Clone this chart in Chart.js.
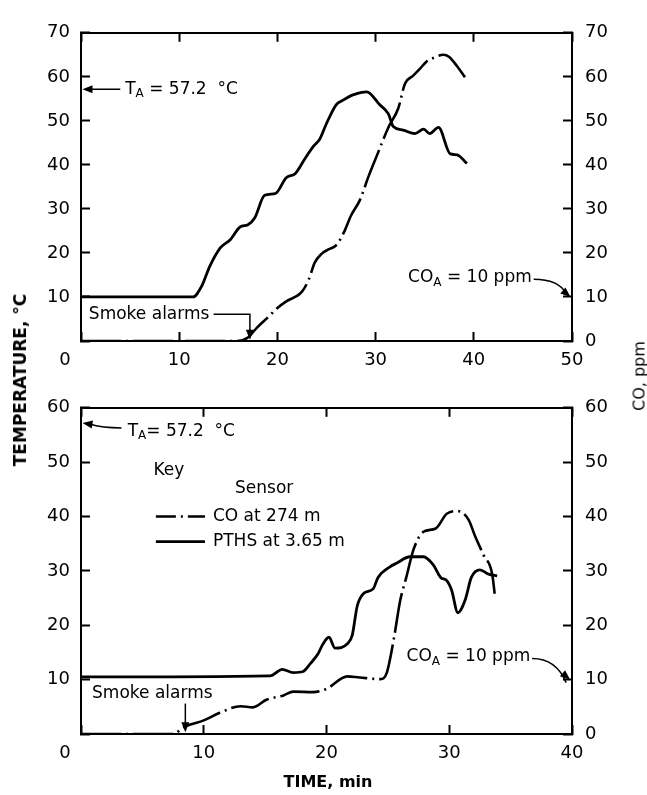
<!DOCTYPE html>
<html>
<head>
<meta charset="utf-8">
<script src="https://cdn.jsdelivr.net/npm/chart.js@4.4.1/dist/chart.umd.min.js"></script>
<style>
  body { margin: 0; background: #fff; }
  #wrap { position: relative; width: 647px; height: 795px; font-family: "DejaVu Sans", sans-serif; color: #000; }
  .box { position: absolute; left: 0; width: 647px; }
  #topBox { top: 0; height: 375px; }
  #botBox { top: 375px; height: 420px; }
  .lab { position: absolute; white-space: nowrap; font-size: 16px; transform: translate(-50%, -50%); }
  .rot { transform: translate(-50%, -50%) rotate(-90deg); }
</style>
</head>
<body>
<div id="wrap">
  <div class="box" id="topBox"><canvas id="topChart"></canvas></div>
  <div class="box" id="botBox"><canvas id="botChart"></canvas></div>
  <div class="lab rot" style="left:20px;top:380px;font-weight:bold;font-size:17px;">TEMPERATURE, °C</div>
  <div class="lab rot" style="left:639px;top:376px;">CO, ppm</div>
  <div class="lab" style="left:328px;top:781px;font-weight:bold;">TIME, min</div>
</div>
<script>
// upper panel
const topTempTime = [0, 11.4, 12.3, 13.1, 14.2, 15.2, 16.2, 17.0, 17.7, 18.7, 19.8, 20.9, 21.8, 22.8, 23.7, 24.3, 25.0, 26.0, 26.6, 27.7, 29.1, 30.4, 31.3, 31.8, 32.8, 34.0, 34.9, 35.5, 36.4, 37.6, 38.3, 39.3];
const topTemp     = [10, 10, 12.5, 16.9, 21.2, 23.0, 25.9, 26.4, 28.0, 33.1, 33.5, 37.1, 38.0, 41.4, 44.3, 45.8, 49.4, 53.7, 54.6, 55.9, 56.6, 53.7, 51.6, 48.7, 47.9, 47.1, 48.1, 47.1, 48.5, 42.5, 42.3, 40.3];
const topCoTime = [0, 15.9, 17.0, 17.9, 19.0, 20.0, 20.9, 22.5, 23.2, 23.8, 24.5, 25.2, 26.0, 26.8, 27.5, 28.4, 29.3, 30.2, 31.3, 32.3, 33.0, 33.8, 34.5, 35.2, 36.0, 36.9, 37.5, 38.3, 39.1];
const topCo     = [0, 0, 0.8, 3.0, 5.3, 7.5, 9.0, 11.2, 14.0, 17.8, 19.8, 20.8, 21.8, 24.8, 28.5, 32.0, 37.5, 42.5, 48.5, 52.8, 58.5, 60.2, 61.8, 63.5, 64.4, 65.0, 64.5, 62.4, 59.9];

// lower panel
const botTempTime = [0, 15.4, 16.4, 17.3, 18.1, 18.7, 19.3, 19.7, 20.2, 20.7, 21.7, 22.1, 22.5, 23.0, 23.8, 24.2, 25.2, 25.7, 26.8, 27.9, 28.7, 29.3, 29.8, 30.2, 30.7, 31.3, 31.8, 32.5, 33.2, 33.9];
const botTemp     = [10.5, 10.7, 11.9, 11.3, 11.5, 13.0, 14.7, 16.5, 17.8, 15.8, 16.6, 18.2, 23.5, 25.8, 26.7, 28.8, 30.8, 31.4, 32.6, 32.6, 31.1, 28.8, 28.2, 26.4, 22.3, 24.7, 28.8, 30.2, 29.4, 29.1];
const botCoTime = [0, 7.4, 8.6, 10.0, 11.3, 13.0, 14.0, 15.1, 16.5, 17.3, 18.9, 20.0, 21.7, 22.7, 24.4, 24.9, 25.5, 26.0, 26.5, 27.1, 27.9, 28.9, 29.8, 30.7, 31.6, 32.1, 32.8, 33.5, 33.7];
const botCo     = [0, 0, 1.5, 2.5, 3.9, 5.1, 4.9, 6.3, 7.1, 7.8, 7.7, 8.3, 10.6, 10.4, 10.1, 11.2, 17.7, 24.5, 28.8, 34.0, 37.2, 37.8, 40.5, 41.0, 39.3, 36.4, 32.9, 29.4, 25.8];

const topXMax = 50, topYMax = 70;
const botXMax = 40, botYMax = 60;
const ambientTemp = 57.2;
const ambientCo = 10;
const topAlarmTime = 17.2;
const botAlarmTime = 8.5;
const keyLabels = ['CO at 274 m', 'PTHS at 3.65 m'];

const FONT = '"DejaVu Sans", sans-serif';
const NOTE = '17px ' + FONT;
const DASHDOT = [40, 5, 2, 5];

function toXY(xs, ys) {
  return xs.map((x, i) => ({ x: x, y: ys[i] }));
}

function arrowHead(ctx, x, y, angle, size) {
  ctx.save();
  ctx.translate(x, y);
  ctx.rotate(angle);
  ctx.beginPath();
  ctx.moveTo(0, 0);
  ctx.lineTo(-size, -size * 0.4);
  ctx.lineTo(-size, size * 0.4);
  ctx.closePath();
  ctx.fill();
  ctx.restore();
}

// text with a subscript part, e.g. T_A, CO_A
function subText(ctx, x, y, main, sub, rest, align) {
  ctx.textBaseline = 'middle';
  ctx.textAlign = 'left';
  ctx.font = NOTE;
  const w1 = ctx.measureText(main).width;
  const w3 = ctx.measureText(rest).width;
  ctx.font = '12px ' + FONT;
  const w2 = ctx.measureText(sub).width;
  let sx = align === 'right' ? x - (w1 + w2 + w3) : x;
  ctx.font = NOTE;
  ctx.fillText(main, sx, y);
  ctx.font = '12px ' + FONT;
  ctx.fillText(sub, sx + w1, y + 5);
  ctx.font = NOTE;
  ctx.fillText(rest, sx + w1 + w2, y);
}

const notesPlugin = {
  id: 'notes',
  afterDraw(chart, args, opts) {
    const ctx = chart.ctx;
    const xs = chart.scales.x, ys = chart.scales.y;
    const P = (t, v) => [xs.getPixelForValue(t), ys.getPixelForValue(v)];
    ctx.save();
    ctx.fillStyle = '#000';
    ctx.strokeStyle = '#000';
    ctx.lineWidth = 1.5;
    // corner zero shared by both axes
    const o = P(0, 0);
    ctx.font = '18px ' + FONT;
    ctx.textAlign = 'center';
    ctx.textBaseline = 'middle';
    ctx.fillText('0', o[0] - 16, o[1] + 19);
    opts.draw(ctx, P);
    ctx.restore();
  }
};

function makeChart(id, cfg) {
  const tickFont = { family: FONT, size: 18 };
  const grid = { drawOnChartArea: false, tickLength: -9, tickWidth: 2, color: '#000' };
  const border = { color: '#000', width: 2 };
  return new Chart(document.getElementById(id), {
    type: 'line',
    data: {
      datasets: [
        {
          label: 'CO',
          data: toXY(cfg.coTime, cfg.co),
          borderColor: '#000',
          borderWidth: 2.6,
          borderDash: DASHDOT,
          pointRadius: 0,
          cubicInterpolationMode: 'monotone',
          yAxisID: 'y2'
        },
        {
          label: 'Temperature',
          data: toXY(cfg.tempTime, cfg.temp),
          borderColor: '#000',
          borderWidth: 2.8,
          pointRadius: 0,
          cubicInterpolationMode: 'monotone',
          yAxisID: 'y'
        }
      ]
    },
    options: {
      responsive: true,
      maintainAspectRatio: false,
      animation: false,
      events: [],
      layout: { padding: 0 },
      plugins: {
        legend: { display: false },
        tooltip: { enabled: false },
        notes: { draw: cfg.notes }
      },
      scales: {
        x: {
          type: 'linear', position: 'bottom', min: 0, max: cfg.xMax,
          ticks: { stepSize: 10, color: '#000', font: tickFont, padding: 18, maxRotation: 0,
                   callback: v => (v === 0 ? '' : v) },
          grid: grid, border: border,
          afterFit: s => { s.height = cfg.bottomH; }
        },
        x2: {
          type: 'linear', position: 'top', min: 0, max: cfg.xMax,
          ticks: { stepSize: 10, display: false },
          grid: grid, border: border,
          afterFit: s => { s.height = cfg.topH; }
        },
        y: {
          position: 'left', min: 0, max: cfg.yMax,
          ticks: { stepSize: 10, color: '#000', font: tickFont, padding: 20,
                   callback: v => (v === 0 ? '' : v) },
          grid: grid, border: border,
          afterFit: s => { s.width = 81; }
        },
        y2: {
          position: 'right', min: 0, max: cfg.yMax,
          ticks: { stepSize: 10, color: '#000', font: tickFont, padding: 22 },
          grid: grid, border: border,
          afterFit: s => { s.width = 75; }
        }
      }
    },
    plugins: [notesPlugin]
  });
}

makeChart('topChart', {
  tempTime: topTempTime, temp: topTemp, coTime: topCoTime, co: topCo,
  xMax: topXMax, yMax: topYMax, topH: 18, bottomH: 34,
  notes: (ctx, P) => {
    // T_A arrow
    let a = P(4.0, ambientTemp), b = P(0.15, ambientTemp);
    ctx.beginPath(); ctx.moveTo(a[0], a[1]); ctx.lineTo(b[0] + 6, b[1]); ctx.stroke();
    arrowHead(ctx, b[0], b[1], Math.PI, 10);
    let t = P(4.5, ambientTemp);
    subText(ctx, t[0], t[1], 'T', 'A', ' = 57.2  °C', 'left');
    // smoke alarms
    t = P(0.8, 6.1);
    ctx.font = NOTE; ctx.textAlign = 'left'; ctx.textBaseline = 'middle';
    ctx.fillText('Smoke alarms', t[0], t[1]);
    a = P(13.5, 6.1); b = P(topAlarmTime, 6.1);
    const c = P(topAlarmTime, 0.3);
    ctx.beginPath(); ctx.moveTo(a[0], a[1]); ctx.lineTo(b[0], b[1]); ctx.lineTo(c[0], c[1] - 8); ctx.stroke();
    arrowHead(ctx, c[0], c[1], Math.PI / 2, 10);
    // CO_A
    t = P(45.9, 14.3);
    subText(ctx, t[0], t[1], 'CO', 'A', ' = 10 ppm', 'right');
    a = P(46.1, 14.0); b = P(49.85, ambientCo);
    ctx.beginPath(); ctx.moveTo(a[0], a[1]);
    ctx.quadraticCurveTo(b[0] - 12, a[1], b[0] - 4, b[1] - 3); ctx.stroke();
    arrowHead(ctx, b[0], b[1], 0.7, 10);
  }
});

makeChart('botChart', {
  tempTime: botTempTime, temp: botTemp, coTime: botCoTime, co: botCo,
  xMax: botXMax, yMax: botYMax, topH: 17, bottomH: 61,
  notes: (ctx, P) => {
    // T_A arrow
    let a = P(3.3, 56.3), b = P(0.12, ambientTemp);
    ctx.beginPath(); ctx.moveTo(a[0], a[1]);
    ctx.quadraticCurveTo((a[0] + b[0]) / 2, a[1], b[0] + 7, b[1] + 1); ctx.stroke();
    arrowHead(ctx, b[0], b[1], Math.PI + 0.15, 10);
    let t = P(3.8, 55.7);
    subText(ctx, t[0], t[1], 'T', 'A', '= 57.2  °C', 'left');
    // key
    ctx.font = NOTE; ctx.textAlign = 'left'; ctx.textBaseline = 'middle';
    t = P(5.9, 48.4); ctx.fillText('Key', t[0], t[1]);
    t = P(12.55, 45.1); ctx.fillText('Sensor', t[0], t[1]);
    a = P(6.1, 40); b = P(10.1, 40);
    ctx.save(); ctx.lineWidth = 2.6; ctx.setLineDash([20, 5, 2, 5]);
    ctx.beginPath(); ctx.moveTo(a[0], a[1]); ctx.lineTo(b[0], b[1]); ctx.stroke(); ctx.restore();
    t = P(10.75, 40); ctx.fillText(keyLabels[0], t[0], t[1]);
    a = P(6.1, 35.4); b = P(10.1, 35.4);
    ctx.save(); ctx.lineWidth = 2.8;
    ctx.beginPath(); ctx.moveTo(a[0], a[1]); ctx.lineTo(b[0], b[1]); ctx.stroke(); ctx.restore();
    t = P(10.75, 35.4); ctx.fillText(keyLabels[1], t[0], t[1]);
    // smoke alarms
    t = P(0.9, 7.4); ctx.fillText('Smoke alarms', t[0], t[1]);
    a = P(botAlarmTime, 5.6); b = P(botAlarmTime, 0.3);
    ctx.beginPath(); ctx.moveTo(a[0], a[1]); ctx.lineTo(b[0], b[1] - 8); ctx.stroke();
    arrowHead(ctx, b[0], b[1], Math.PI / 2, 10);
    // CO_A
    t = P(36.6, 14.2);
    subText(ctx, t[0], t[1], 'CO', 'A', ' = 10 ppm', 'right');
    a = P(36.75, 13.9); b = P(39.85, ambientCo);
    ctx.beginPath(); ctx.moveTo(a[0], a[1]);
    ctx.quadraticCurveTo(b[0] - 14, a[1], b[0] - 4, b[1] + 3); ctx.stroke();
    arrowHead(ctx, b[0], b[1], 0.7, 10);
  }
});
</script>
</body>
</html>
